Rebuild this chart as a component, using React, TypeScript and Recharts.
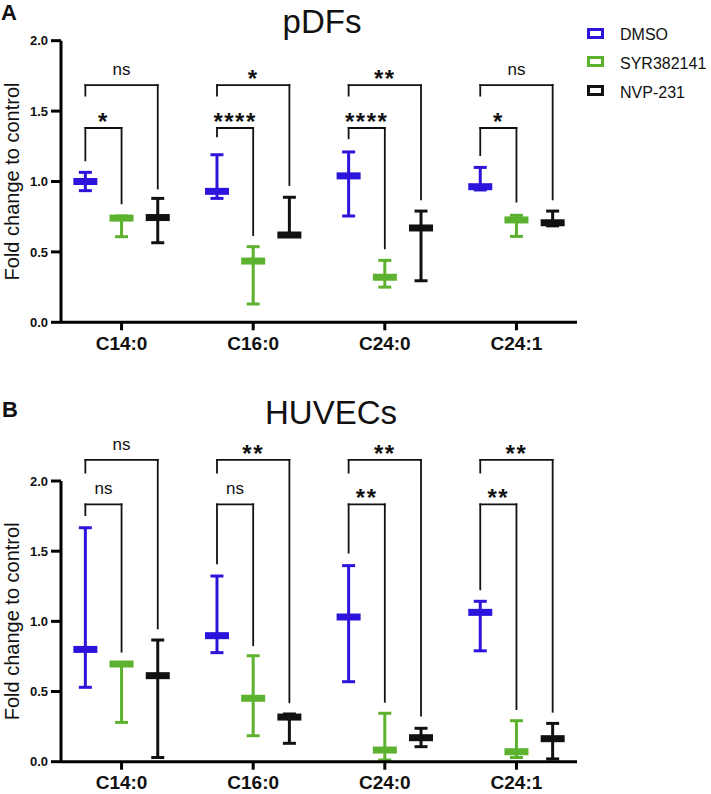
import { ScatterChart, Scatter, XAxis, YAxis, ErrorBar, ReferenceLine } from "recharts";

const FONT = "'Liberation Sans', Arial, Helvetica, sans-serif";

const CATEGORIES = ["C14:0", "C16:0", "C24:0", "C24:1"];
const GROUPS = ["DMSO", "SYR382141", "NVP-231"];
const GROUP_COLORS = ["#2d14dc", "#5cb22e", "#111111"];
const Y_TICKS = [0, 0.5, 1, 1.5, 2];
const SPREAD = 0.275;

// pDFs – median with min/max
const PDFS_DMSO_MED = [1.0, 0.93, 1.04, 0.963];
const PDFS_DMSO_MIN = [0.935, 0.88, 0.755, 0.94];
const PDFS_DMSO_MAX = [1.065, 1.19, 1.21, 1.1];
const PDFS_SYR_MED = [0.74, 0.435, 0.32, 0.727];
const PDFS_SYR_MIN = [0.608, 0.13, 0.25, 0.61];
const PDFS_SYR_MAX = [0.755, 0.537, 0.44, 0.76];
const PDFS_NVP_MED = [0.744, 0.62, 0.67, 0.707];
const PDFS_NVP_MIN = [0.565, 0.61, 0.295, 0.685];
const PDFS_NVP_MAX = [0.88, 0.888, 0.79, 0.79];

// HUVECs – median with min/max
const HUVEC_DMSO_MED = [0.8, 0.898, 1.031, 1.064];
const HUVEC_DMSO_MIN = [0.53, 0.777, 0.57, 0.79];
const HUVEC_DMSO_MAX = [1.667, 1.323, 1.397, 1.143];
const HUVEC_SYR_MED = [0.696, 0.452, 0.083, 0.071];
const HUVEC_SYR_MIN = [0.28, 0.185, 0.012, 0.03];
const HUVEC_SYR_MAX = [0.7, 0.755, 0.345, 0.292];
const HUVEC_NVP_MED = [0.613, 0.318, 0.171, 0.164];
const HUVEC_NVP_MIN = [0.03, 0.131, 0.107, 0.02];
const HUVEC_NVP_MAX = [0.867, 0.34, 0.238, 0.273];

// significance brackets: inner = DMSO vs SYR, outer = DMSO vs NVP
const PDFS_INNER_LEVEL = 1.38;
const PDFS_INNER_LEFT = [1.15, 1.32, 1.307, 1.188];
const PDFS_INNER_RIGHT = [0.845, 0.62, 0.525, 0.857];
const PDFS_INNER_TEXT = ["*", "****", "****", "*"];
const PDFS_OUTER_LEVEL = 1.685;
const PDFS_OUTER_LEFT = [1.61, 1.61, 1.61, 1.61];
const PDFS_OUTER_RIGHT = [0.95, 0.975, 0.873, 0.873];
const PDFS_OUTER_TEXT = ["ns", "*", "**", "ns"];

const HUVEC_INNER_LEVEL = 1.834;
const HUVEC_INNER_LEFT = [1.757, 1.413, 1.49, 1.228];
const HUVEC_INNER_RIGHT = [0.784, 0.83, 0.427, 0.375];
const HUVEC_INNER_TEXT = ["ns", "ns", "**", "**"];
const HUVEC_OUTER_LEVEL = 2.15;
const HUVEC_OUTER_LEFT = [2.06, 2.06, 2.06, 2.06];
const HUVEC_OUTER_RIGHT = [0.95, 0.423, 0.328, 0.356];
const HUVEC_OUTER_TEXT = ["ns", "**", "**", "**"];

function toPoints(med: number[], min: number[], max: number[], g: number) {
  return med.map((m, i) => ({ x: i + (g - 1) * SPREAD, y: m, range: [m - min[i], max[i] - m] }));
}

const PDFS_SERIES = [
  toPoints(PDFS_DMSO_MED, PDFS_DMSO_MIN, PDFS_DMSO_MAX, 0),
  toPoints(PDFS_SYR_MED, PDFS_SYR_MIN, PDFS_SYR_MAX, 1),
  toPoints(PDFS_NVP_MED, PDFS_NVP_MIN, PDFS_NVP_MAX, 2),
];
const HUVEC_SERIES = [
  toPoints(HUVEC_DMSO_MED, HUVEC_DMSO_MIN, HUVEC_DMSO_MAX, 0),
  toPoints(HUVEC_SYR_MED, HUVEC_SYR_MIN, HUVEC_SYR_MAX, 1),
  toPoints(HUVEC_NVP_MED, HUVEC_NVP_MIN, HUVEC_NVP_MAX, 2),
];

const medianShape = (color: string) => (p: any) =>
  <rect x={p.cx - 12} y={p.cy - 3.5} width={24} height={7} fill={color} />;

function bracket(key: string, x1: number, x2: number, level: number, left: number, right: number, text: string) {
  const stars = text !== "ns";
  const line = { stroke: "#111", strokeWidth: 1.8, ifOverflow: "visible" as const, strokeLinecap: "square" as const };
  return [
    <ReferenceLine key={key + "l"} {...line} segment={[{ x: x1, y: left }, { x: x1, y: level }]} />,
    <ReferenceLine key={key + "t"} {...line} segment={[{ x: x1, y: level }, { x: x2, y: level }]}
      label={{
        value: text, position: "top", offset: stars ? -2 : 10, fill: "#111",
        fontSize: stars ? 24 : 17, fontWeight: stars ? 700 : 400, letterSpacing: stars ? 1.5 : 0, fontFamily: FONT,
      }} />,
    <ReferenceLine key={key + "r"} {...line} segment={[{ x: x2, y: level }, { x: x2, y: right }]} />,
  ];
}

function Panel({ series, inner, outer, height, top, bottom }: any) {
  return (
    <ScatterChart width={711} height={height} margin={{ top, right: 134, bottom, left: 0 }}>
      <XAxis type="number" dataKey="x" domain={[-0.46, 3.46]} ticks={[0, 1, 2, 3]} allowDataOverflow
        tickFormatter={(v: number) => CATEGORIES[v]} height={30} tickSize={8} tickMargin={6}
        axisLine={{ stroke: "#000", strokeWidth: 3 }} tickLine={{ stroke: "#000", strokeWidth: 3 }}
        tick={{ fill: "#111", fontSize: 19, fontWeight: 700, fontFamily: FONT }} />
      <YAxis type="number" dataKey="y" domain={[0, 2]} ticks={Y_TICKS} allowDataOverflow width={61}
        tickFormatter={(v: number) => v.toFixed(1)} tickSize={10} tickMargin={3}
        axisLine={{ stroke: "#000", strokeWidth: 3 }} tickLine={{ stroke: "#000", strokeWidth: 3 }}
        tick={{ fill: "#111", fontSize: 13, fontWeight: 700, fontFamily: FONT }}
        label={{ value: "Fold change to control", angle: -90, position: "insideLeft", offset: 12,
          style: { textAnchor: "middle" }, fontSize: 20, fill: "#111", fontFamily: FONT }} />
      {CATEGORIES.flatMap((c, i) => [
        ...bracket(c + "in", i - SPREAD, i, inner.level, inner.left[i], inner.right[i], inner.text[i]),
        ...bracket(c + "out", i - SPREAD, i + SPREAD, outer.level, outer.left[i], outer.right[i], outer.text[i]),
      ])}
      {series.map((pts: any[], g: number) => (
        <Scatter key={GROUPS[g]} name={GROUPS[g]} data={pts} fill={GROUP_COLORS[g]}
          shape={medianShape(GROUP_COLORS[g])} isAnimationActive={false}>
          <ErrorBar dataKey="range" direction="y" width={6.5} strokeWidth={3} stroke={GROUP_COLORS[g]} isAnimationActive={false} />
        </Scatter>
      ))}
    </ScatterChart>
  );
}

const textBase = { position: "absolute" as const, lineHeight: 1, whiteSpace: "nowrap" as const, color: "#111" };

export default function App() {
  return (
    <div style={{ position: "absolute", left: 0, top: 0, width: 711, height: 794, background: "#fff", fontFamily: FONT, overflow: "hidden" }}>
      <div style={{ position: "absolute", left: 0, top: 0 }}>
        <Panel series={PDFS_SERIES} height={360} top={40.7} bottom={7.7}
          inner={{ level: PDFS_INNER_LEVEL, left: PDFS_INNER_LEFT, right: PDFS_INNER_RIGHT, text: PDFS_INNER_TEXT }}
          outer={{ level: PDFS_OUTER_LEVEL, left: PDFS_OUTER_LEFT, right: PDFS_OUTER_RIGHT, text: PDFS_OUTER_TEXT }} />
      </div>
      <div style={{ position: "absolute", left: 0, top: 400 }}>
        <Panel series={HUVEC_SERIES} height={394} top={81} bottom={2.3}
          inner={{ level: HUVEC_INNER_LEVEL, left: HUVEC_INNER_LEFT, right: HUVEC_INNER_RIGHT, text: HUVEC_INNER_TEXT }}
          outer={{ level: HUVEC_OUTER_LEVEL, left: HUVEC_OUTER_LEFT, right: HUVEC_OUTER_RIGHT, text: HUVEC_OUTER_TEXT }} />
      </div>

      <div style={{ ...textBase, left: 1, top: 1.5, fontSize: 22, fontWeight: 700 }}>A</div>
      <div style={{ ...textBase, left: 2, top: 398.5, fontSize: 22, fontWeight: 700 }}>B</div>
      <div style={{ ...textBase, left: 322, top: 5, fontSize: 33, transform: "translateX(-50%)" }}>pDFs</div>
      <div style={{ ...textBase, left: 331, top: 395.5, fontSize: 33, transform: "translateX(-50%)" }}>HUVECs</div>

      {GROUPS.map((g, i) => (
        <div key={g} style={{ position: "absolute", left: 587, top: 27 + i * 28.8, display: "flex", alignItems: "center" }}>
          <div style={{ width: 17, height: 11, border: `3px solid ${GROUP_COLORS[i]}`, boxSizing: "border-box" }} />
          <span style={{ marginLeft: 16, fontSize: 16, lineHeight: "12px", color: "#111", position: "relative", top: 2 }}>{g}</span>
        </div>
      ))}
    </div>
  );
}
